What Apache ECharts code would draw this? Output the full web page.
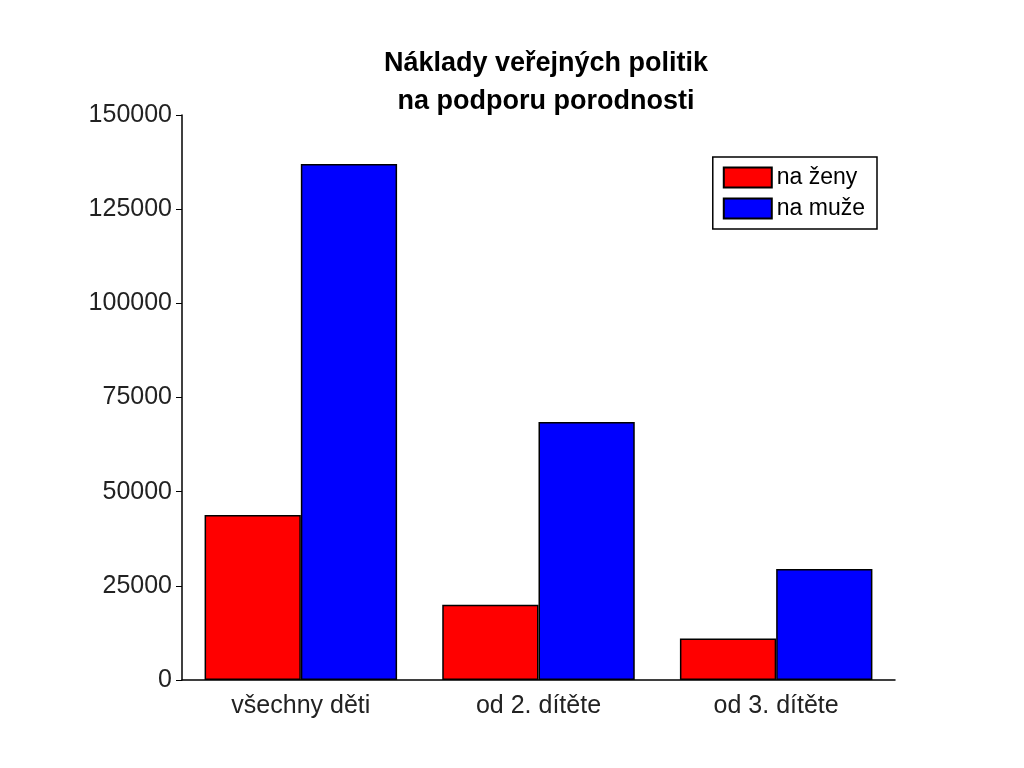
<!DOCTYPE html>
<html><head><meta charset="utf-8">
<script src="https://cdn.jsdelivr.net/npm/echarts@6/dist/echarts.min.js"></script>
<style>html,body{margin:0;background:#fff}#c{width:1024px;height:768px}</style>
</head><body><div id="c"></div>
<script>
const categories = ['všechny děti', 'od 2. dítěte', 'od 3. dítěte'];
const zeny = [43800, 20000, 11000];
const muze = [137000, 68500, 29500];
const yTicks = [0, 25000, 50000, 75000, 100000, 125000, 150000];
const F = 'Liberation Sans';
const chart = echarts.init(document.getElementById('c'));
chart.setOption({
  animation: false,
  title: {text: 'Náklady veřejných politik\nna podporu porodnosti', left: 541, top: 40, textAlign: 'center',
    textStyle: {fontFamily: F, fontSize: 27, fontWeight: 'bold', color: '#000', lineHeight: 38}},
  legend: {right: 147, top: 157, orient: 'vertical', icon: 'rect', itemWidth: 48, itemHeight: 20, itemGap: 8,
    borderColor: '#000', borderWidth: 1.5, padding: [9, 12, 9, 10], borderRadius: 0,
    textStyle: {fontFamily: F, fontSize: 23, color: '#000'},
    data: ['na ženy', 'na muže']},
  grid: {left: 182, right: 129, top: 115, bottom: 88},
  xAxis: {type: 'category', data: categories,
    axisLine: {lineStyle: {color: '#000', width: 1.5}}, axisTick: {show: false},
    axisLabel: {fontFamily: F, fontSize: 25, color: '#222', margin: 14}},
  yAxis: {type: 'value', min: 0, max: 150000, interval: 25000, splitLine: {show: false},
    axisLine: {show: true, lineStyle: {color: '#000', width: 1.5}},
    axisTick: {show: true, length: 6, lineStyle: {color: '#000'}},
    axisLabel: {fontFamily: F, fontSize: 25, color: '#222', margin: 10, formatter: v => String(v)}},
  series: [
    {name: 'na ženy', type: 'bar', data: zeny, barGap: '0%', barCategoryGap: '19%',
     itemStyle: {color: '#ff0000', borderColor: '#000', borderWidth: 1.5}},
    {name: 'na muže', type: 'bar', data: muze,
     itemStyle: {color: '#0000ff', borderColor: '#000', borderWidth: 1.5}}
  ]
});
</script></body></html>
